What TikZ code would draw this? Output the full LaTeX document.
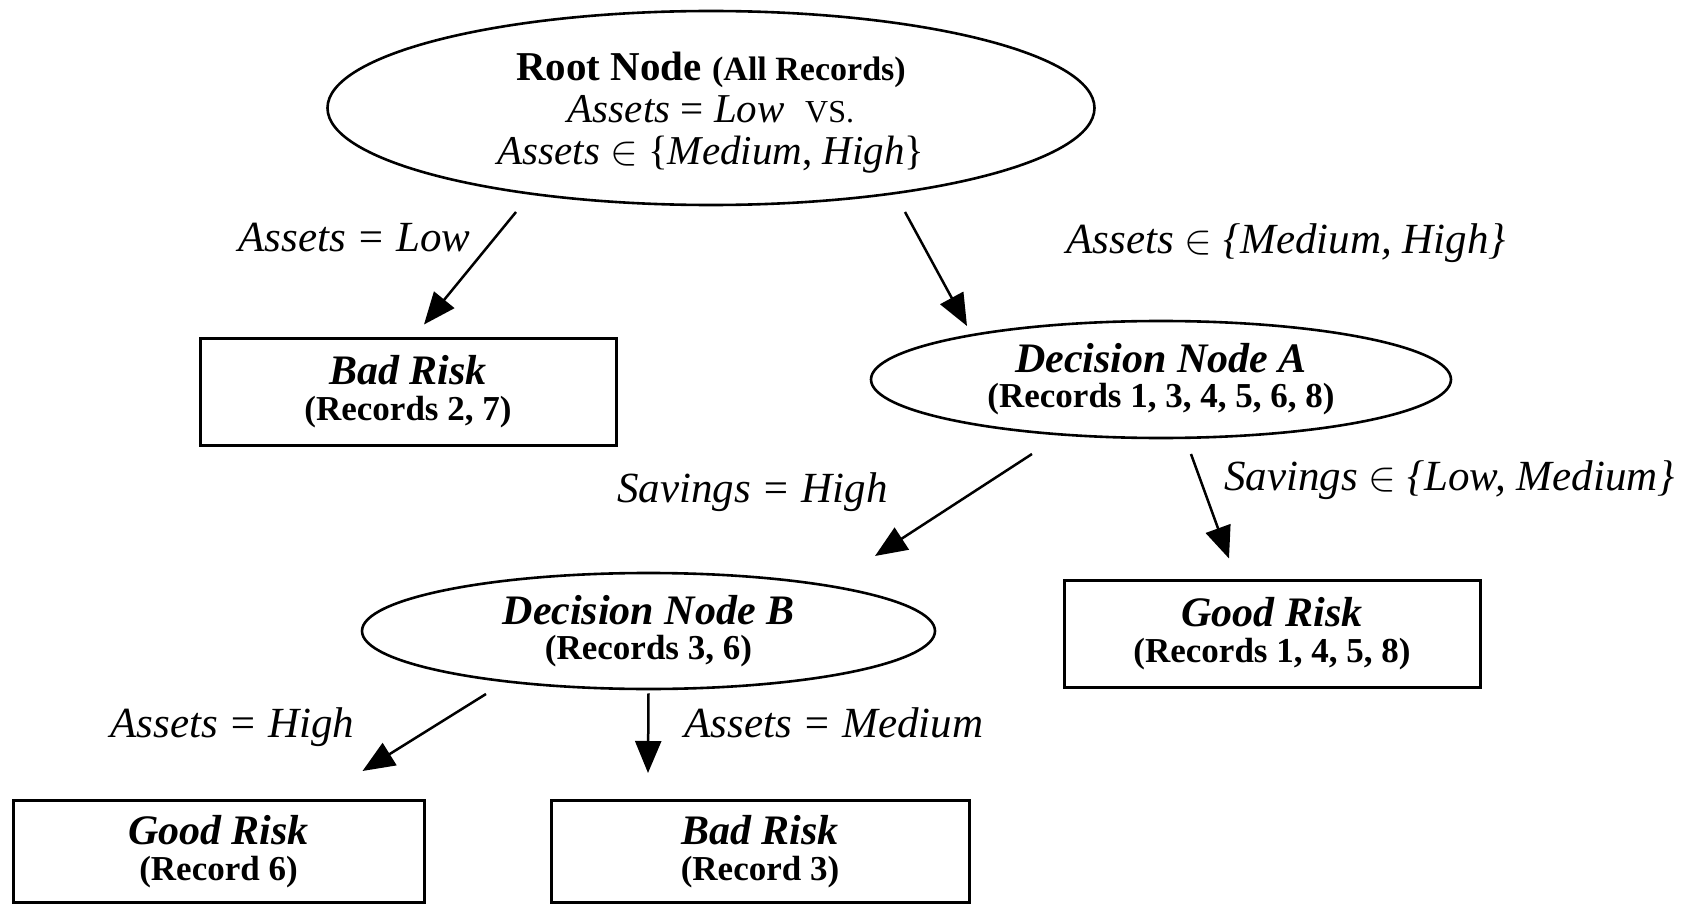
\documentclass[tikz,border=0pt]{standalone}
\usepackage{fontspec}
\setmainfont{Liberation Serif}
\usetikzlibrary{arrows.meta,calc,shapes.geometric}
\newcommand{\recfont}{\fontsize{17.5}{18}\selectfont\bfseries}
\begin{document}
\begin{tikzpicture}[x=0.5pt,y=-0.5pt,
  ell/.style={ellipse, draw, line width=1.3pt, inner sep=0pt, align=center},
  leaf/.style={rectangle, draw, line width=1.5pt, inner sep=0pt, align=center,
    font=\fontsize{21}{18}\selectfont},
  arr/.style={-{Triangle[length=16pt,width=13pt]}, line width=1.25pt},
  lbl/.style={font=\fontsize{21.5}{24}\selectfont\itshape, inner sep=0pt, anchor=base west}]
\useasboundingbox (0,0) rectangle (1694,904);

% nodes
\node[ell, minimum width=383.5pt, minimum height=97pt] (root) at (711,108) {};
\node[inner sep=0pt, align=center, font=\fontsize{20.5}{21}\selectfont]
  (roottext) at (711,113)
  {\textbf{Root Node} {\fontsize{17}{18}\selectfont\bfseries (All Records)}\\
   \textit{Assets} = \textit{Low}\ \ {\fontsize{16}{18}\selectfont VS.}\\
   \textit{Assets} $\in$ \{\textit{Medium}, \textit{High}\}};

\node[leaf, minimum width=208pt, minimum height=53.5pt] (bad1) at (408,391.5)
  {\textbf{\textit{Bad Risk}}\\{\recfont (Records 2, 7)}};

\node[ell, minimum width=290pt, minimum height=58.5pt, font=\fontsize{21}{17.5}\selectfont]
  (nodeA) at (1161,379.5)
  {\textbf{\textit{Decision Node A}}\\{\recfont (Records 1, 3, 4, 5, 6, 8)}};

\node[leaf, minimum width=208pt, minimum height=53.5pt] (good1) at (1272,633.5)
  {\textbf{\textit{Good Risk}}\\{\recfont (Records 1, 4, 5, 8)}};

\node[ell, minimum width=286.5pt, minimum height=58pt, font=\fontsize{21}{17.5}\selectfont]
  (nodeB) at (648.5,631)
  {\textbf{\textit{Decision Node B}}\\{\recfont (Records 3, 6)}};

\node[leaf, minimum width=205.5pt, minimum height=51pt] (good2) at (218.5,851.5)
  {\textbf{\textit{Good Risk}}\\{\recfont (Record 6)}};

\node[leaf, minimum width=209pt, minimum height=51pt] (bad2) at (760,851.5)
  {\textbf{\textit{Bad Risk}}\\{\recfont (Record 3)}};

% connectors
\draw[arr] ($(root.center)+(-195,104)$) -- ($(bad1.north)+(16,-12)$);
\draw[arr] ($(root.center)+(194,104)$) -- ($(nodeA.center)+(-194,-53.5)$);
\draw[arr] ($(nodeA.center)+(-129,74.5)$) -- ($(nodeB.center)+(226.5,-75)$);
\draw[arr] ($(nodeA.center)+(30,74.5)$) -- ($(good1.north)+(-43,-20)$);
\draw[arr] ($(nodeB.center)+(-162.5,63)$) -- ($(good2.north)+(144,-28)$);
\draw[arr] ($(nodeB.south)+(0,3)$) -- ($(bad2.north)+(-112,-26)$);

% labels
\node[lbl] (l1) at (238,251) {Assets = Low};
\node[lbl] (l2) at (1066,254) {Assets $\in$ \{Medium, High\}};
\node[lbl] (l3) at (617,502) {Savings = High};
\node[lbl] (l4) at (1224,490) {Savings $\in$ \{Low, Medium\}};
\node[lbl] (l5) at (110,737) {Assets = High};
\node[lbl] (l6) at (684,737) {Assets = Medium};
\end{tikzpicture}
\end{document}
